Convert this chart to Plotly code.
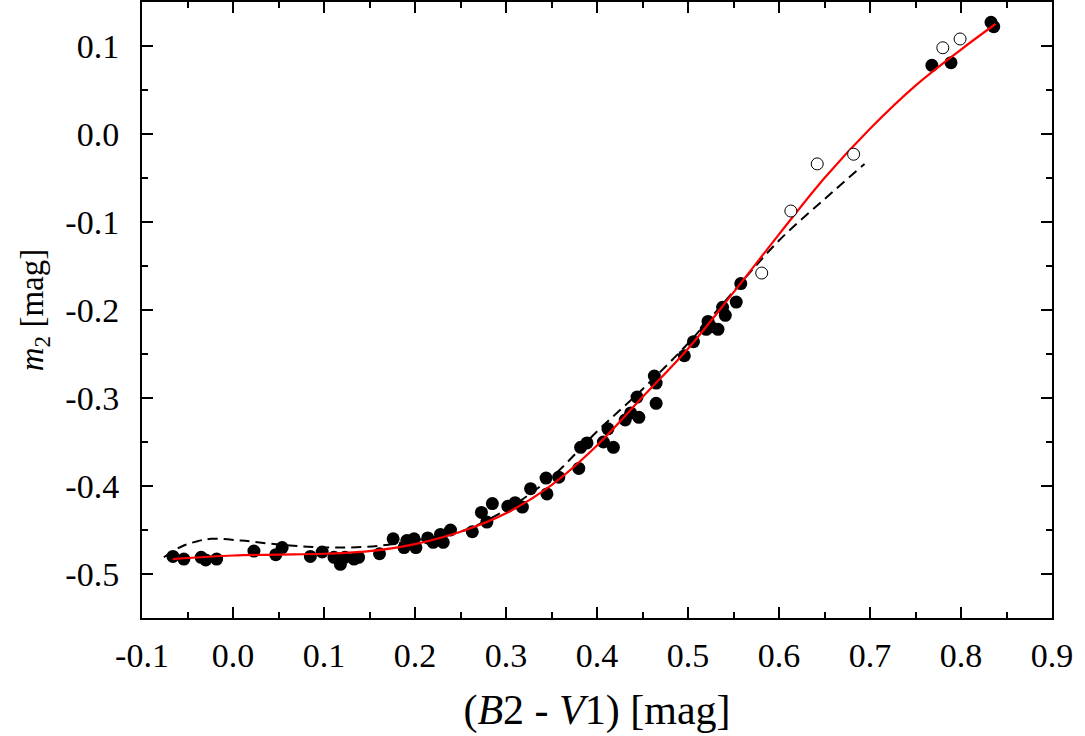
import plotly.graph_objects as go

# --- data ---

# filled circles: (B2 - V1), m2
filled_x = [-0.066, -0.054, -0.035, -0.030, -0.018, 0.023, 0.047, 0.054, 0.085, 0.098,
            0.111, 0.118, 0.123, 0.133, 0.138, 0.161, 0.176, 0.188, 0.191, 0.199,
            0.201, 0.214, 0.220, 0.228, 0.231, 0.239, 0.263, 0.273, 0.279, 0.285,
            0.302, 0.310, 0.318, 0.327, 0.344, 0.345, 0.358, 0.380, 0.382, 0.389,
            0.407, 0.412, 0.418, 0.431, 0.437, 0.444, 0.446, 0.463, 0.465, 0.465,
            0.496, 0.506, 0.520, 0.522, 0.525, 0.533, 0.538, 0.541, 0.553, 0.558,
            0.768, 0.789, 0.833, 0.836]
filled_y = [-0.480, -0.483, -0.481, -0.484, -0.483, -0.474, -0.478, -0.470, -0.480, -0.475,
            -0.481, -0.489, -0.481, -0.483, -0.481, -0.477, -0.460, -0.470, -0.462, -0.460,
            -0.470, -0.459, -0.464, -0.455, -0.464, -0.450, -0.452, -0.430, -0.441, -0.420,
            -0.423, -0.419, -0.424, -0.403, -0.391, -0.409, -0.390, -0.380, -0.356, -0.351,
            -0.350, -0.335, -0.356, -0.325, -0.317, -0.299, -0.322, -0.275, -0.283, -0.306,
            -0.252, -0.236, -0.222, -0.213, -0.219, -0.222, -0.197, -0.206, -0.191, -0.170,
            0.078, 0.081, 0.127, 0.122]

# open circles
open_x = [0.581, 0.613, 0.642, 0.682, 0.780, 0.799]
open_y = [-0.158, -0.0875, -0.034, -0.023, 0.098, 0.108]

# red solid fit
fit_x = [-0.066, 0.0, 0.05, 0.1, 0.15, 0.2, 0.25, 0.3, 0.35, 0.4, 0.45, 0.5,
         0.55, 0.6, 0.65, 0.7, 0.75, 0.8, 0.838]
fit_y = [-0.483, -0.479, -0.478, -0.477, -0.474, -0.466, -0.452, -0.431, -0.399, -0.354,
         -0.299, -0.244, -0.180, -0.114, -0.050, 0.006, 0.055, 0.096, 0.125]

# black dashed fit
dash_x = [-0.076, -0.057, -0.040, -0.024, 0.009, 0.045, 0.082, 0.118, 0.16, 0.2, 0.25,
          0.3, 0.35, 0.4, 0.45, 0.5, 0.55, 0.6, 0.65, 0.694]
dash_y = [-0.481, -0.469, -0.463, -0.460, -0.462, -0.466, -0.469, -0.470, -0.468, -0.462,
          -0.452, -0.427, -0.390, -0.338, -0.290, -0.238, -0.179, -0.121, -0.074, -0.034]

x_ticks = [-0.1, 0.0, 0.1, 0.2, 0.3, 0.4, 0.5, 0.6, 0.7, 0.8, 0.9]
x_ticktext = ['-0.1', '0.0', '0.1', '0.2', '0.3', '0.4', '0.5', '0.6', '0.7', '0.8', '0.9']
y_ticks = [-0.5, -0.4, -0.3, -0.2, -0.1, 0.0, 0.1]
y_ticktext = ['-0.5', '-0.4', '-0.3', '-0.2', '-0.1', '0.0', '0.1']

FONT = "Liberation Serif"

fig = go.Figure()

fig.add_trace(go.Scatter(
    x=dash_x, y=dash_y, mode='lines', line_shape='spline',
    line=dict(color='black', width=2, dash='10px,6px'), showlegend=False
))
fig.add_trace(go.Scatter(
    x=filled_x, y=filled_y, mode='markers',
    marker=dict(color='black', size=13, line=dict(width=0)), showlegend=False
))
fig.add_trace(go.Scatter(
    x=fit_x, y=fit_y, mode='lines', line_shape='spline',
    line=dict(color='#ff0000', width=2.2), showlegend=False
))
fig.add_trace(go.Scatter(
    x=open_x, y=open_y, mode='markers',
    marker=dict(color='white', size=12, line=dict(color='black', width=1)), showlegend=False
))

axis_common = dict(
    showgrid=False, zeroline=False,
    showline=True, linecolor='black', linewidth=2, mirror='ticks',
    ticks='inside', ticklen=11, tickwidth=2, tickcolor='black',
    tickfont=dict(family=FONT, size=34, color='black'),
    tickmode='array',
)

fig.update_xaxes(
    range=[-0.1, 0.9], tickvals=x_ticks, ticktext=x_ticktext,
    minor=dict(tickmode='linear', tick0=0, dtick=0.05, ticks='inside', ticklen=6,
               tickwidth=2, tickcolor='black', showgrid=False),
    ticklabelstandoff=6,
    title=dict(text='(<i>B</i>2 - <i>V</i>1) [mag]', font=dict(family=FONT, size=42, color='black'),
               standoff=22),
    **axis_common
)
fig.update_yaxes(
    range=[-0.55, 0.15], tickvals=y_ticks, ticktext=y_ticktext,
    minor=dict(tickmode='linear', tick0=0, dtick=0.05, ticks='inside', ticklen=6,
               tickwidth=2, tickcolor='black', showgrid=False),
    ticklabelstandoff=14,
    title=dict(text='<i>m</i><sub>2</sub> [mag]', font=dict(family=FONT, size=33, color='black'),
               standoff=12),
    **axis_common
)

fig.update_layout(
    width=1085, height=736,
    margin=dict(l=142, r=33, t=2, b=118, autoexpand=False),
    plot_bgcolor='white', paper_bgcolor='white',
    font=dict(family=FONT, color='black'),
    showlegend=False,
)

# drop the browser's default 8px body margin so the figure sits at (0, 0)
fig.write_html("out.html", config={'displayModeBar': False},
               post_script="document.body.style.margin='0';")
